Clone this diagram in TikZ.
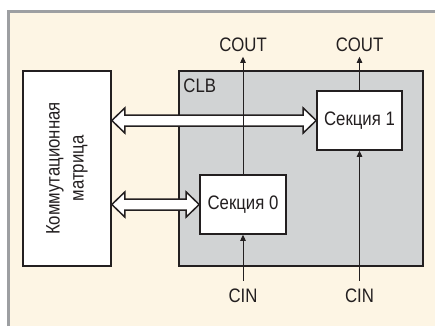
\documentclass[tikz,border=0pt]{standalone}
\usepackage{fontspec}
\setmainfont{Liberation Sans}[FakeStretch=0.86]
\usepackage{tikz}
\usetikzlibrary{calc,positioning,arrows.meta}
\usepackage{xcolor}
\definecolor{paper}{HTML}{FDF5E4}
\definecolor{framegray}{HTML}{9D9FA2}
\definecolor{clbgray}{HTML}{D1D3D4}
\definecolor{ink}{HTML}{231F20}

% hollow two-headed bus arrow between two points on one level
\newcommand{\busarrow}[2]{%
  \draw[bus] let \p1=(#1), \p2=(#2) in
    (\x1,\y1) -- (\x1+13pt,\y1+12.5pt) -- (\x1+13pt,\y1+5.5pt)
    -- (\x2-13pt,\y1+5.5pt) -- (\x2-13pt,\y1+12.5pt) -- (\x2,\y2)
    -- (\x2-13pt,\y1-12.5pt) -- (\x2-13pt,\y1-5.5pt)
    -- (\x1+13pt,\y1-5.5pt) -- (\x1+13pt,\y1-12.5pt) -- cycle;}

\begin{document}
\begin{tikzpicture}[x=1pt, y=-1pt,
      every node/.style={font=\fontsize{19.5}{21}\selectfont, text=ink},
      block/.style={
        draw=ink, line width=1.6pt,
        fill=white, inner sep=0pt
      },
      lbl/.style={inner sep=3pt},
      sig/.style={draw=ink, line width=0.9pt, -{Triangle[length=6pt,width=5.5pt]}},
      bus/.style={draw=ink, line width=1.5pt, fill=white, line join=miter}
    ]
      \useasboundingbox (0,0) rectangle (435,326);
      \fill[paper] (9,12) rectangle (435,326);
      \draw[framegray, line width=3pt] (8.5,326) -- (8.5,11.5) -- (435,11.5);

      \coordinate (toprow) at (0,44.7);
      \coordinate (botrow) at (0,296);

      \node[block, minimum width=88pt, minimum height=195pt] (mtx) at (67,168.5) {};
      \node[rotate=90, align=center] (mtxlbl) at (mtx) {Коммутационная\\[3pt]матрица};

      \node[block, fill=clbgray, minimum width=244pt, minimum height=195pt] (clb) at (301,168.5) {};
      \node[lbl, anchor=north west] (clblbl) at ([shift={(2,5)}]clb.north west) {CLB};

      \node[block, minimum width=85pt, minimum height=59pt] (s1) at (359.5,120.5) {Секция 1};
      \node[block, minimum width=86pt, minimum height=59pt] (s0) at (243,204.5) {Секция 0};

      \node[lbl] (cout0) at (s0 |- toprow) {COUT};
      \node[lbl] (cout1) at (s1 |- toprow) {COUT};
      \node[lbl] (cin0) at (s0 |- botrow) {CIN};
      \node[lbl] (cin1) at (s1 |- botrow) {CIN};

      \busarrow{mtx.east |- s1.west}{s1.west}
      \busarrow{mtx.east |- s0.west}{s0.west}

      \draw[sig, shorten >=2pt] (s0.north) -- (cout0.south);
      \draw[sig, shorten >=2pt] (s1.north) -- (cout1.south);
      \draw[sig, shorten <=5pt] (cin0.north) -- (s0.south);
      \draw[sig, shorten <=5pt] (cin1.north) -- (s1.south);
    \end{tikzpicture}
\end{document}
